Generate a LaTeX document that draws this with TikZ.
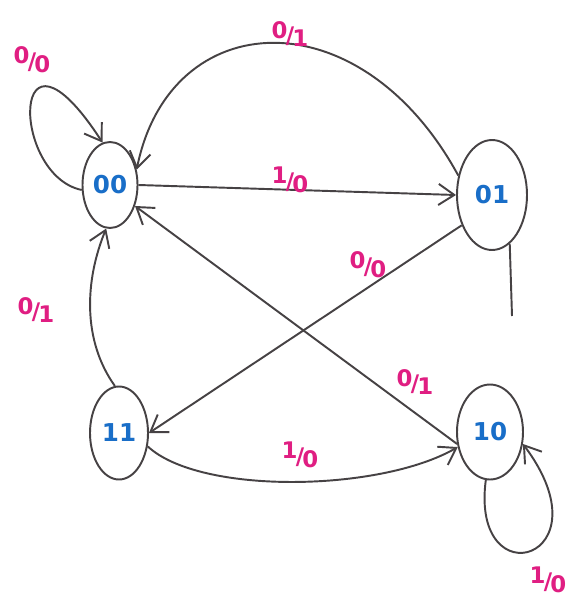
\documentclass[tikz,border=0pt]{standalone}
\usepackage{fontspec}
\setsansfont{DejaVu Sans}
\usetikzlibrary{arrows.meta,shapes.geometric}
\definecolor{ink}{RGB}{70,66,68}
\definecolor{pen}{RGB}{224,30,130}
\definecolor{bluepen}{RGB}{25,110,200}
\newcommand{\io}[2]{\raisebox{3pt}{#1}\kern-1pt/\kern-1pt\raisebox{-2pt}{#2}}
\tikzset{
  state/.style={draw=ink, line width=1.1pt, ellipse, inner sep=0pt, fill=white,
    text=bluepen, font=\sffamily\bfseries\fontsize{14}{14}\selectfont},
  trans/.style={draw=ink, line width=1.1pt, -{Straight Barb[length=9pt,width=12pt]}},
  plain/.style={draw=ink, line width=1.1pt},
  lab/.style={text=pen, font=\sffamily\bfseries\fontsize{13}{13}\selectfont, inner sep=0pt}
}
\begin{document}
\begin{tikzpicture}[x=0.02cm,y=-0.02cm]
\useasboundingbox[fill=white] (0,0) rectangle (568,608);
% states
\node[state, minimum width=55*0.02cm, minimum height=86*0.02cm] (s00) at (110,185) {00};
\node[state, minimum width=70*0.02cm, minimum height=110*0.02cm] (s01) at (492,195) {01};
\node[state, minimum width=58*0.02cm, minimum height=93*0.02cm] (s11) at (119,433) {11};
\node[state, minimum width=66*0.02cm, minimum height=95*0.02cm] (s10) at (490,432) {10};
\coordinate (dang) at (512,316);
% transitions
\draw[trans] (s00.190) .. controls (10,175) and (10,0) .. (s00.100);
\draw[trans] (s01.150) .. controls (360,-5) and (170,5) .. (s00.30);
\draw[trans] (s00.east) -- (s01.west);
\draw[trans] (s01.225) -- (s11.east);
\draw[trans] (s11.95) .. controls (82,340) and (85,280) .. (s00.265);
\draw[trans] (s11.335) .. controls (200,495) and (380,492) .. (s10.205);
\draw[trans] (s10.200) -- (s00.320);
\draw[trans] (s10.265) .. controls (470,600) and (610,560) .. (s10.340);
\draw[plain] (s01.290) -- (dang);
% labels
\node[lab] (l1) at (32,60) {\io{0}{0}};
\node[lab] (l2) at (290,34) {\io{0}{1}};
\node[lab] (l3) at (290,180) {\io{1}{0}};
\node[lab] (l4) at (368,265) {\io{0}{0}};
\node[lab] (l5) at (36,310) {\io{0}{1}};
\node[lab] (l6) at (415,382) {\io{0}{1}};
\node[lab] (l7) at (300,455) {\io{1}{0}};
\node[lab] (l8) at (548,580) {\io{1}{0}};
\end{tikzpicture}
\end{document}
